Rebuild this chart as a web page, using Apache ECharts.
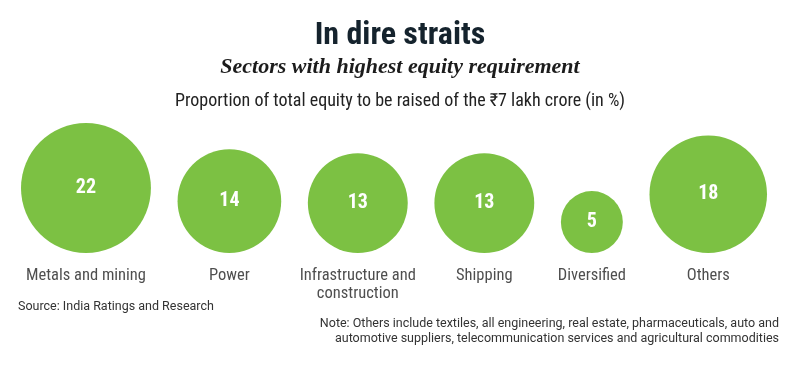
<!DOCTYPE html>
<html>
<head>
<meta charset="utf-8">
<script src="https://cdn.jsdelivr.net/npm/echarts@6/dist/echarts.min.js"></script>
<style>
html,body{margin:0;padding:0;background:#fff;}
#chart{width:800px;height:370px;}
</style>
</head>
<body>
<div id="chart"></div>
<script>
// ---- data ----
const categories = ['Metals and mining', 'Power', 'Infrastructure and\nconstruction', 'Shipping', 'Diversified', 'Others'];
const shares = [22, 14, 13, 13, 5, 18];
const titleText = 'In dire straits';
const subtitleText = 'Sectors with highest equity requirement';
const headingText = 'Proportion of total equity to be raised of the \u20B97 lakh crore (in %)';
const sourceText = 'Source: India Ratings and Research';
const noteText = 'Note: Others include textiles, all engineering, real estate, pharmaceuticals, auto and\nautomotive suppliers, telecommunication services and agricultural commodities';

// ---- layout (area-proportional circles packed in a row) ----
const K = 27.7;               // px of diameter per sqrt(unit)
const SPAN = 746;             // width of plotting row in px
const diam = shares.map(v => K * Math.sqrt(v));
const gap = (SPAN - diam.reduce((a, b) => a + b, 0)) / (shares.length - 1);
const xs = [];
let acc = 0;
diam.forEach(d => { xs.push(acc + d / 2); acc += d + gap; });

const COND = '"Roboto Condensed","Open Sans Condensed","DejaVu Sans Condensed",sans-serif';
const SANS = 'Roboto,"Liberation Sans",sans-serif';

const chart = echarts.init(document.getElementById('chart'), null, {renderer: 'canvas'});
chart.setOption({
  backgroundColor: '#ffffff',
  animation: false,
  title: [
    {text: titleText, left: 'center', top: 15,
     textStyle: {fontFamily: COND, fontWeight: 'bold', fontSize: 32, color: '#15232d'}},
    {text: subtitleText, left: 'center', top: 51,
     textStyle: {fontFamily: '"Liberation Serif","DejaVu Serif",serif', fontStyle: 'italic', fontWeight: 'bold', fontSize: 22, color: '#1c1c1c'}},
    {text: headingText, left: 'center', top: 87,
     textStyle: {fontFamily: COND, fontWeight: 'normal', fontSize: 18, color: '#222'}}
  ],
  graphic: [
    {type: 'text', left: 18, top: 300,
     style: {text: sourceText, font: '12.5px ' + SANS, fill: '#333'}},
    {type: 'text', right: 21, top: 316,
     style: {text: noteText, font: '12.5px ' + SANS, fill: '#333', textAlign: 'right', lineHeight: 15}}
  ],
  grid: {left: 21, right: 800 - 21 - SPAN, top: 120, bottom: 117},
  xAxis: {type: 'value', min: 0, max: SPAN, show: false},
  yAxis: {type: 'value', min: 0, max: 1, show: false},
  series: [
    {
      type: 'scatter',
      data: shares.map((v, i) => ({name: categories[i], value: [xs[i], 0, v]})),
      symbol: 'circle',
      symbolSize: (val) => K * Math.sqrt(val[2]),
      symbolOffset: [0, '-50%'],
      itemStyle: {color: '#7cc143', opacity: 1},
      label: {show: true, position: 'inside', formatter: (p) => String(p.value[2]),
               fontFamily: COND, fontWeight: 'bold', fontSize: 20, color: '#ffffff'},
      silent: true
    },
    {
      type: 'scatter',
      data: shares.map((v, i) => ({name: categories[i], value: [xs[i], 0]})),
      symbolSize: 1,
      itemStyle: {color: 'rgba(0,0,0,0)'},
      label: {show: true, position: 'bottom', distance: 13, formatter: (p) => p.name,
              fontFamily: COND, fontSize: 16.5, lineHeight: 18, color: '#222', align: 'center'},
      silent: true
    }
  ]
});
</script>
</body>
</html>
